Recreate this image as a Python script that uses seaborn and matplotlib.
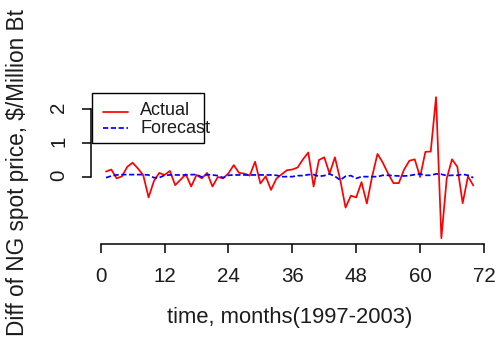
import matplotlib
matplotlib.use("Agg")
import matplotlib.pyplot as plt
import pandas as pd
import seaborn as sns
from matplotlib.lines import Line2D
from matplotlib.patches import Rectangle

# Monthly differences of natural-gas spot price, $/Million Btu
months = list(range(1, 71))
actual = [
    0.16, 0.22, -0.04, 0.02, 0.30, 0.42, 0.25, 0.05, -0.60, -0.12,
    0.12, 0.06, 0.18, -0.24, -0.08, 0.08, -0.28, 0.06, -0.04, 0.12,
    -0.28, 0.00, -0.04, 0.11, 0.35, 0.12, 0.10, 0.04, 0.45, -0.19,
    0.02, -0.38, -0.05, 0.08, 0.20, 0.22, 0.28, 0.52, 0.72, -0.28,
    0.50, 0.58, 0.10, 0.58, -0.08, -0.90, -0.55, -0.60, -0.15, -0.78,
    0.02, 0.68, 0.42, 0.10, -0.18, -0.18, 0.22, 0.48, 0.52, 0.00,
    0.74, 0.75, 2.35, -1.80, -0.05, 0.52, 0.30, -0.77, 0.02, -0.25,
]
forecast = [
    -0.02, 0.03, 0.06, 0.07, 0.07, 0.07, 0.07, 0.07, 0.06, -0.02,
    -0.02, 0.05, 0.06, 0.06, 0.06, 0.06, 0.07, 0.07, 0.00, 0.07,
    0.06, 0.04, -0.02, 0.05, 0.06, 0.06, 0.06, 0.06, 0.06, 0.06,
    0.06, 0.06, 0.05, 0.01, 0.01, 0.01, 0.04, 0.04, 0.07, 0.07,
    0.02, 0.04, 0.09, 0.02, -0.09, 0.02, 0.04, -0.04, 0.01, 0.01,
    0.01, 0.01, 0.05, 0.05, 0.04, 0.03, 0.03, 0.04, 0.07, 0.09,
    0.05, 0.05, 0.09, 0.08, 0.04, 0.05, 0.05, 0.08, 0.05, -0.02,
]
series_names = ["Actual", "Forecast"]
x_ticks = [0, 12, 24, 36, 48, 60, 72]
y_ticks = [0, 1, 2]

sns.set_theme(style="ticks")
plt.rcParams["font.family"] = ["Liberation Sans", "DejaVu Sans"]
text_color = "#1c1c1c"

df = pd.DataFrame({
    "month": months * 2,
    "value": actual + forecast,
    "series": [series_names[0]] * len(months) + [series_names[1]] * len(months),
})

W, H = 497, 343
fig = plt.figure(figsize=(W / 100, H / 100), dpi=100)
ax = fig.add_axes([91.3 / W, 1 - 243.8 / H, 396.7 / W, 152.3 / H])

palette = {"Actual": "#ff0000", "Forecast": "#0000ff"}
dash_map = {"Actual": "", "Forecast": (3, 1.5)}
sns.lineplot(data=df, x="month", y="value", hue="series", style="series",
             palette=palette, dashes=dash_map, linewidth=1.25,
             legend=False, sort=False, ax=ax)

# R-style limits: data range padded by 4% on each side
def padded(lo, hi):
    span = hi - lo
    return lo - 0.04 * span, hi + 0.04 * span

all_vals = actual + forecast
ax.set_xlim(*padded(min(months), max(months)))
ax.set_ylim(*padded(min(all_vals), max(all_vals)))

sns.despine(ax=ax)
ax.spines["bottom"].set_bounds(x_ticks[0], x_ticks[-1])
ax.spines["left"].set_bounds(y_ticks[0], y_ticks[-1])
for s in ("bottom", "left"):
    ax.spines[s].set_linewidth(1.1)
    ax.spines[s].set_color("black")

ax.set_xticks(x_ticks)
ax.set_yticks(y_ticks)
ax.set_xticklabels([str(t) for t in x_ticks])
ax.set_yticklabels([str(t) for t in y_ticks])
ax.tick_params(axis="both", direction="out", length=6.5, width=1.1,
               color="black", labelsize=14.8, labelcolor=text_color, pad=10)
ax.tick_params(axis="y", labelrotation=90, pad=10)
ax.grid(False)

ax.set_xlabel("time, months(1997-2003)", fontsize=15.8, color=text_color)
ax.set_ylabel("Diff of NG spot price, $/Million Bt", fontsize=16.3,
              color=text_color, va="center")
ax.xaxis.set_label_coords(0.5, -0.415)
ax.yaxis.set_label_coords(-0.187, 0.465)

# Boxed key in the top-left corner
ax.add_patch(Rectangle((0.001, 0.660), 0.283, 0.328, transform=ax.transAxes,
                       fill=False, lw=1.0, ec="black", clip_on=False))
ax.add_line(Line2D([0.0295, 0.0925], [0.867, 0.867], transform=ax.transAxes,
                   color=palette["Actual"], lw=1.25))
ax.add_line(Line2D([0.0295, 0.0925], [0.758, 0.758], transform=ax.transAxes,
                   color=palette["Forecast"], lw=1.25, dashes=(3, 1.5)))
ax.text(0.1228, 0.872, series_names[0], transform=ax.transAxes,
        ha="left", va="center", fontsize=13, color=text_color)
ax.text(0.1228, 0.760, series_names[1], transform=ax.transAxes,
        ha="left", va="center", fontsize=13, color=text_color)

fig.savefig("out.png", dpi=100, facecolor="white")
